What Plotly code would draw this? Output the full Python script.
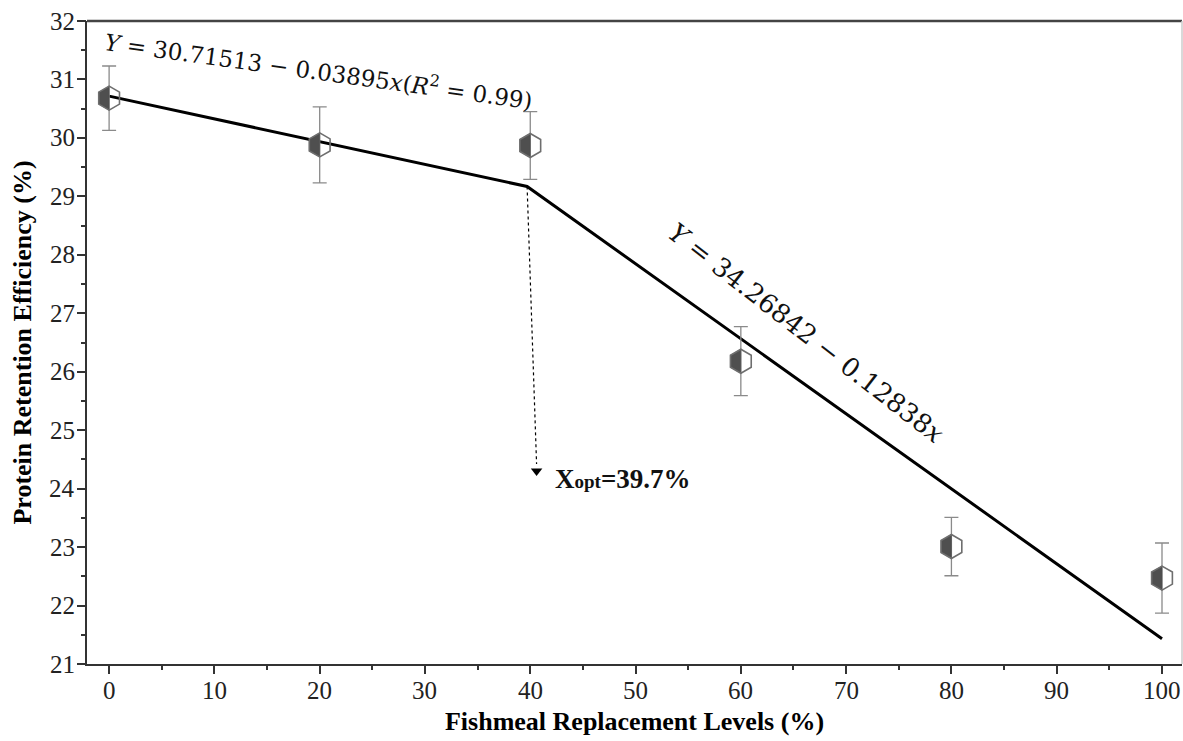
import numpy as np
import plotly.graph_objects as go

# ---- data ----
levels = [0, 20, 40, 60, 80, 100]
pre = [30.68, 29.88, 29.87, 26.18, 23.01, 22.47]
err = [0.55, 0.65, 0.58, 0.59, 0.50, 0.60]

# broken-line regression
a1, b1 = 30.71513, -0.03895
a2, b2 = 34.26842, -0.12838
x_opt = 39.7
x_start, x_end = 0, 100
arrow_tip = [40.6, 24.3]

x_tick_vals = list(range(0, 101, 10))
y_tick_vals = list(range(21, 33))
x_tick_labels = [str(v) for v in x_tick_vals]
y_tick_labels = [str(v) for v in y_tick_vals]
x_minor_step, y_minor_step = 5, 0.5

# ---- layout geometry ----
W, H = 1183, 741
ML, MR, MT, MB = 87, 1, 21, 77
xr = [-2.1, 101.9]
yr = [21, 32]
pw, ph = W - ML - MR, H - MT - MB
px_x = pw / (xr[1] - xr[0])
px_y = ph / (yr[1] - yr[0])

fig = go.Figure()

# regression line
seg_x = [x_start, x_opt, x_end]
seg_y = [a1 + b1 * x_start, a1 + b1 * x_opt, a2 + b2 * x_end]
fig.add_trace(go.Scatter(x=seg_x, y=seg_y, mode="lines",
                         line=dict(color="black", width=3), hoverinfo="skip"))

# dotted drop line to X_opt
y_opt = a1 + b1 * x_opt
fig.add_trace(go.Scatter(x=[x_opt, arrow_tip[0]], y=[y_opt, arrow_tip[1] + 0.12], mode="lines",
                         line=dict(color="black", width=1.2, dash="dot"), hoverinfo="skip"))
fig.add_trace(go.Scatter(x=[arrow_tip[0]], y=[arrow_tip[1]], mode="markers",
                         marker=dict(symbol="triangle-down", size=10, color="black"), hoverinfo="skip"))

# error bars (no markers)
fig.add_trace(go.Scatter(x=levels, y=pre, mode="markers",
                         marker=dict(size=0.1, color="rgba(0,0,0,0)"),
                         error_y=dict(type="data", array=err, color="#8a8a8a", thickness=1.3, width=7),
                         hoverinfo="skip"))

# left-half filled hexagons
r = 12.0
rs = r * np.sqrt(3) / 2
hx, hy = [], []
for xv, yv in zip(levels, pre):
    pts = [(0, r), (-rs, r / 2), (-rs, -r / 2), (0, -r), (0, r)]
    for px_, py_ in pts:
        hx.append(xv + px_ / px_x)
        hy.append(yv + py_ / px_y)
    hx.append(None)
    hy.append(None)
fig.add_trace(go.Scatter(x=hx, y=hy, mode="lines", fill="toself",
                         fillcolor="#4f4f4f", line=dict(color="#4f4f4f", width=0.5),
                         hoverinfo="skip"))
# outline hexagons
fig.add_trace(go.Scatter(x=levels, y=pre, mode="markers",
                         marker=dict(symbol="hexagon-open", size=2 * r, color="#6e6e6e",
                                     line=dict(color="#6e6e6e", width=1.6)),
                         hoverinfo="skip"))

serif = "Liberation Serif"

fig.update_layout(
    width=W, height=H,
    margin=dict(l=ML, r=MR, t=MT, b=MB, autoexpand=False),
    paper_bgcolor="white", plot_bgcolor="white",
    showlegend=False,
    font=dict(family=serif, size=25, color="black"),
    xaxis=dict(range=xr, tickmode="array", tickvals=x_tick_vals, showticklabels=False,
               ticks="outside", ticklen=8, tickwidth=1.5, tickcolor="#333",
               showline=True, linecolor="#333", linewidth=2, automargin=False,
               showgrid=False, zeroline=False,
               title=dict(text="<b>Fishmeal Replacement Levels (%)</b>",
                          font=dict(family=serif, size=26), standoff=39)),
    yaxis=dict(range=yr, tickmode="array", tickvals=y_tick_vals, showticklabels=False,
               ticks="outside", ticklen=8, tickwidth=1.5, tickcolor="#333",
               showline=True, linecolor="#333", linewidth=2, automargin=False,
               showgrid=False, zeroline=False,
               title=dict(text="<b>Protein Retention Efficiency (%)</b>",
                          font=dict(family=serif, size=26), standoff=38)),
    # minor-tick axes (no labels)
    xaxis2=dict(range=xr, overlaying="x", side="bottom", tickmode="linear", tick0=0,
                dtick=x_minor_step, ticks="outside", ticklen=5, tickwidth=1.5, tickcolor="#333",
                showticklabels=False, showgrid=False, zeroline=False, showline=False),
    yaxis2=dict(range=yr, overlaying="y", side="left", tickmode="linear", tick0=21,
                dtick=y_minor_step, ticks="outside", ticklen=5, tickwidth=1.5, tickcolor="#333",
                showticklabels=False, showgrid=False, zeroline=False, showline=False),
)
fig.add_trace(go.Scatter(x=[None], y=[None], xaxis="x2", yaxis="y2", showlegend=False))

# tick labels
for v, t in zip(x_tick_vals, x_tick_labels):
    fig.add_annotation(x=v, y=0, xref="x", yref="paper", text=t, showarrow=False,
                       xanchor="center", yanchor="top", yshift=-11,
                       font=dict(family=serif, size=25, color="#222"))
for v, t in zip(y_tick_vals, y_tick_labels):
    fig.add_annotation(x=0, y=v, xref="paper", yref="y", text=t, showarrow=False,
                       xanchor="right", yanchor="middle", xshift=-10,
                       font=dict(family=serif, size=25, color="#222"))

# top and right frame
fig.add_shape(type="line", xref="paper", yref="paper", x0=0, x1=1, y0=1, y1=1,
              line=dict(color="#444", width=2.5))
fig.add_shape(type="line", xref="paper", yref="paper", x0=1, x1=1, y0=0, y1=1,
              line=dict(color="#cccccc", width=1.5))

# equation annotations
fig.add_annotation(x=(318 - ML) / pw, y=1 - (70 - MT) / ph, xref="paper", yref="paper",
                   xanchor="center", yanchor="middle",
                   text=f"<i>Y</i> = {a1:.5f} − {abs(b1):.5f}<i>x</i>(<i>R</i><sup>2</sup> = 0.99)",
                   showarrow=False, textangle=7.9,
                   font=dict(family="DejaVu Serif", size=23, color="#111"))
fig.add_annotation(x=(806 - ML) / pw, y=1 - (333 - MT) / ph, xref="paper", yref="paper",
                   xanchor="center", yanchor="middle",
                   text=f"<i>Y</i> = {a2:.5f} − {abs(b2):.5f}<i>x</i>",
                   showarrow=False, textangle=37.8,
                   font=dict(family="DejaVu Serif", size=26, color="#111"))
fig.add_annotation(x=arrow_tip[0] + 1.6, y=arrow_tip[1] - 0.13, xref="x", yref="y",
                   xanchor="left",
                   text="<b>X<span style='font-size:19px'>opt</span>=39.7%</b>",
                   showarrow=False, font=dict(family=serif, size=27, color="#111"))

fig.write_html("out.html")
